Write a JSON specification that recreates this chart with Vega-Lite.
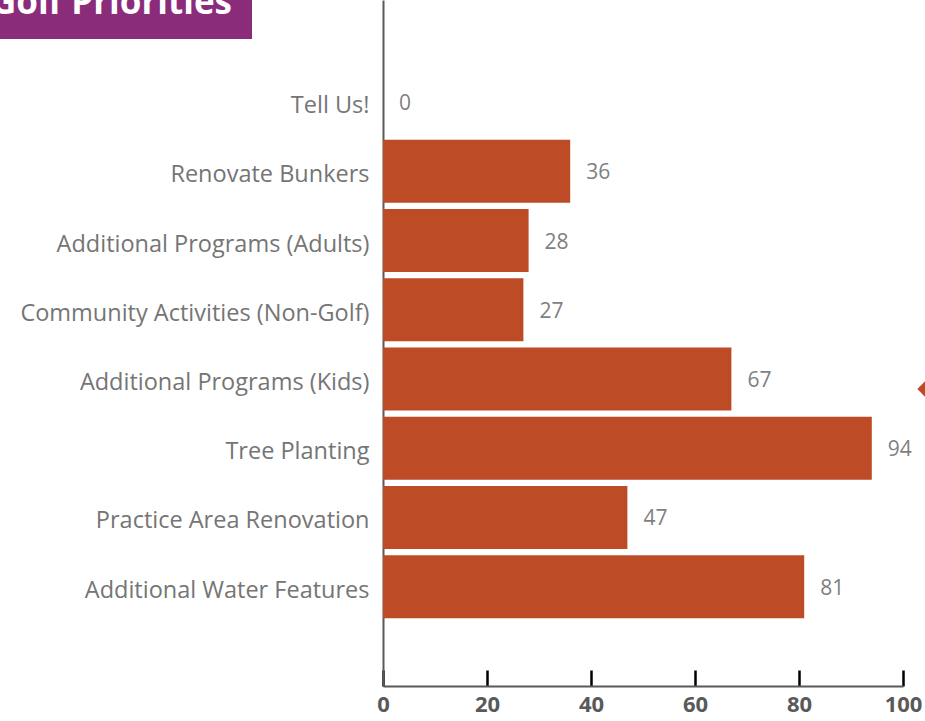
{
  "$schema": "https://vega.github.io/schema/vega-lite/v6.json",
  "padding": {"left": 0, "top": 0, "right": 0, "bottom": 6},
  "background": "white",
  "bounds": "flush",
  "spacing": 131,
  "config": {
    "view": {"stroke": null},
    "font": "Open Sans"
  },
  "hconcat": [
    {
      "width": 252,
      "height": 39,
      "view": {"fill": "#8B2C7B", "stroke": null},
      "data": {"values": [{"t": "Golf Priorities"}]},
      "mark": {"type": "text", "color": "white", "fontSize": 35, "fontWeight": "bold", "font": "Open Sans", "align": "right", "baseline": "alphabetic", "dx": 106, "dy": -6, "clip": true},
      "encoding": {"text": {"field": "t"}}
    },
    {
      "width": 520,
      "height": 686,
      "data": {"values": [
        {"item": "Tell Us!", "value": 0},
        {"item": "Renovate Bunkers", "value": 36},
        {"item": "Additional Programs (Adults)", "value": 28},
        {"item": "Community Activities (Non-Golf)", "value": 27},
        {"item": "Additional Programs (Kids)", "value": 67},
        {"item": "Tree Planting", "value": 94},
        {"item": "Practice Area Renovation", "value": 47},
        {"item": "Additional Water Features", "value": 81}
      ]},
      "encoding": {
        "y": {
          "field": "item", "type": "nominal", "sort": null,
          "scale": {"paddingInner": 0.09, "paddingOuter": 1.13, "align": 0.51},
          "axis": {"title": null, "ticks": false, "domainColor": "#595959", "domainWidth": 2, "labelFontSize": 23.5, "labelColor": "#757575", "labelPadding": 14, "labelLimit": 500, "labelOffset": 4, "labelFont": "Open Sans"}
        },
        "x": {
          "field": "value", "type": "quantitative",
          "scale": {"domain": [0, 100], "nice": false},
          "axis": {"title": null, "grid": false, "values": [0, 20, 40, 60, 80, 100], "labelFlush": false, "domainColor": "#595959", "domainWidth": 2, "tickColor": "#000000", "tickWidth": 2.5, "tickSize": -16, "labelPadding": 24, "labelFontSize": 22, "labelFontWeight": "bold", "labelColor": "#595959", "labelFont": "Open Sans"}
        }
      },
      "layer": [
        {"mark": {"type": "bar", "color": "#BD4B26"}},
        {"mark": {"type": "text", "align": "left", "baseline": "middle", "dx": 16, "dy": 2, "fontSize": 21, "color": "#7F7F7F"}, "encoding": {"text": {"field": "value", "type": "quantitative"}}},
        {
          "data": {"values": [{"item": "Additional Programs (Kids)", "value": 104.8}]},
          "mark": {"type": "point", "shape": "diamond", "filled": true, "color": "#BD4B26", "size": 450, "clip": false, "opacity": 1, "yOffset": 10}
        }
      ]
    }
  ]
}
